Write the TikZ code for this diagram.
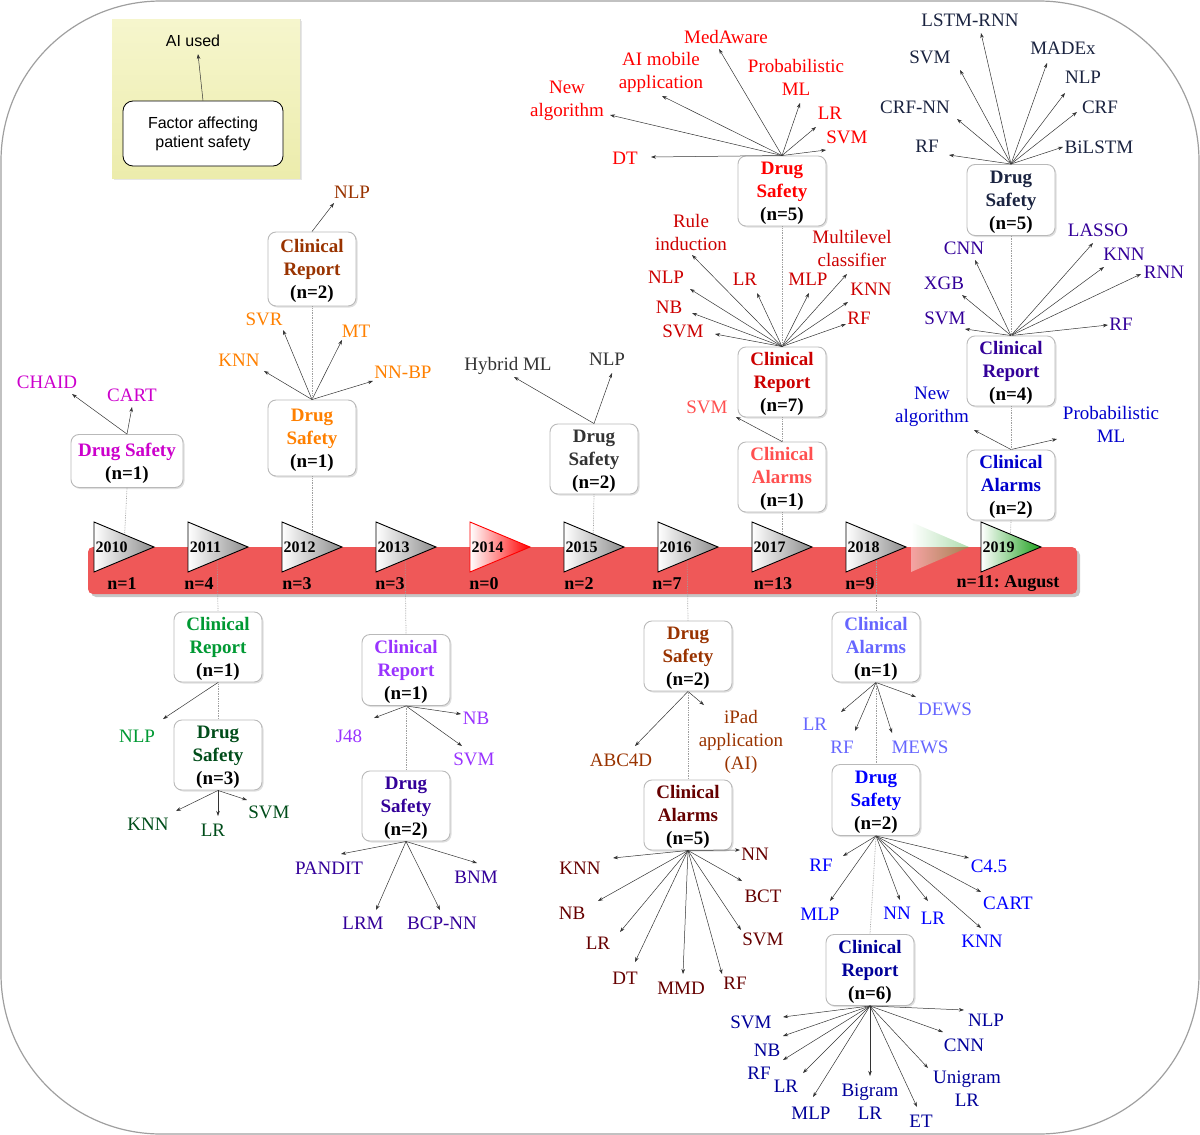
\documentclass[tikz,border=0pt]{standalone}
\usepackage{fontspec}
\setmainfont{Liberation Serif}
\newfontfamily\legendfont{Liberation Sans}
\usetikzlibrary{arrows.meta,shadows}
\definecolor{cten}{RGB}{204,0,204}
\definecolor{celr}{RGB}{0,153,51}
\definecolor{celd}{RGB}{0,77,26}
\definecolor{ctwr}{RGB}{153,51,0}
\definecolor{ctwd}{RGB}{255,128,0}
\definecolor{cthr}{RGB}{153,51,255}
\definecolor{cthd}{RGB}{51,0,153}
\definecolor{cfif}{RGB}{51,51,51}
\definecolor{csxd}{RGB}{153,51,0}
\definecolor{csxa}{RGB}{102,0,0}
\definecolor{csva}{RGB}{255,80,80}
\definecolor{csvr}{RGB}{204,0,0}
\definecolor{csvd}{RGB}{255,0,0}
\definecolor{ceia}{RGB}{102,102,255}
\definecolor{ceid}{RGB}{0,0,255}
\definecolor{ceir}{RGB}{0,0,153}
\definecolor{cnia}{RGB}{0,0,204}
\definecolor{cnir}{RGB}{51,0,153}
\definecolor{cnid}{RGB}{26,35,64}
\definecolor{barred}{RGB}{239,88,88}
\definecolor{legtop}{RGB}{246,246,205}
\definecolor{legbot}{RGB}{236,236,172}
\definecolor{trigreen}{RGB}{30,160,30}
\colorlet{labcol}{black}
\newcommand{\bst}{\rule{0pt}{18pt}}
\newcommand{\techlab}[4]{%
  \node[lbl] (#1) at (#2) {#3};
  \coordinate (#1t) at (#4);
  \draw[arr] (\src) -- (#1t);
}
\newcommand{\yeartri}[5]{%
  \shadedraw[left color=white, right color=#3, draw=#4, line width=0.9pt] (#1,522) -- ++(60,25) -- ++(-60,25) -- cycle;
  \node[ylab] (#2) at (#1+17.5,547) {#5};
}
\begin{document}
\begin{tikzpicture}[x=1pt,y=-1pt,
  box/.style={draw=gray!55, line width=0.9pt, rounded corners=8pt, fill=white,
    minimum width=88pt, minimum height=70pt, inner sep=1pt, align=center,
    font=\fontsize{19}{23}\selectfont\bfseries,
    drop shadow={shadow xshift=1.5pt, shadow yshift=-1.5pt, opacity=0.25, fill=gray}},
  lbl/.style={font=\fontsize{19}{23}\selectfont, text=labcol, align=center, inner sep=1pt},
  arr/.style={draw=black!80, line width=0.5pt, -{Stealth[length=5pt,width=3.5pt]}},
  dots/.style={draw=gray!75, densely dotted, line width=0.7pt},
  ylab/.style={font=\fontsize{16}{16}\selectfont\bfseries, inner sep=0pt},
  nlab/.style={font=\fontsize{18}{18}\selectfont\bfseries, inner sep=0pt}]
\useasboundingbox (0,0) rectangle (1200,1135);
% frame
\draw[gray!75, line width=1.2pt, rounded corners=160pt] (1,1) rectangle (1199,1134);
% legend
\shade[top color=legtop, bottom color=legbot, draw=gray!30, line width=0.5pt,
  drop shadow={shadow xshift=1.5pt, shadow yshift=-1.5pt, opacity=0.2, fill=gray}] (112,19) rectangle (300,178);
\shade[top color=legtop, bottom color=legbot] (112,19) rectangle (300,178);
\node[draw=black, line width=0.8pt, rounded corners=10pt, fill=white, minimum width=160pt, minimum height=65pt,
  align=center, font=\legendfont\fontsize{16}{19}\selectfont] (legbox) at (203,133.5) {Factor affecting\\patient safety};
\node[font=\legendfont\fontsize{16}{19}\selectfont, inner sep=1pt] (legai) at (193,40.5) {AI used};
\coordinate (legtip) at (198,54);
\draw[arr] (legbox.north) -- (legtip);
% bar
\fill[gray!45, rounded corners=5pt] (91,550) rectangle (1080,597);
\fill[barred, rounded corners=5pt] (88,547) rectangle (1077,594);
% triangle coordinates
\coordinate (t10) at (124,547);
\coordinate (t11) at (217,547);
\coordinate (t12) at (312,547);
\coordinate (t13) at (405,547);
\coordinate (t15) at (593,547);
\coordinate (t16) at (687,547);
\coordinate (t17) at (782,547);
\coordinate (t18) at (876,547);
\coordinate (t19) at (1010,547);
% boxes
\node[box, text=cten, minimum width=112pt, minimum height=53pt] (b10) at (127,461) {\bst Drug Safety\\\textcolor{black}{(n=1)}};
\node[box, text=ctwr, minimum height=74pt] (b12r) at (312,269) {\bst Clinical\\Report\\\textcolor{black}{(n=2)}};
\node[box, text=ctwd, minimum height=76pt] (b12d) at (312,438) {\bst Drug\\Safety\\\textcolor{black}{(n=1)}};
\node[box, text=celr] (b11r) at (218,647) {\bst Clinical\\Report\\\textcolor{black}{(n=1)}};
\node[box, text=celd, minimum height=65pt] (b11d) at (218,755) {\bst Drug\\Safety\\\textcolor{black}{(n=3)}};
\node[box, text=cthr, minimum height=71pt] (b13r) at (406,670) {\bst Clinical\\Report\\\textcolor{black}{(n=1)}};
\node[box, text=cthd] (b13d) at (406,806) {\bst Drug\\Safety\\\textcolor{black}{(n=2)}};
\node[box, text=cfif, minimum height=69pt] (b15) at (594,459) {\bst Drug\\Safety\\\textcolor{black}{(n=2)}};
\node[box, text=csxd, minimum height=65pt] (b16d) at (688,656) {\bst Drug\\Safety\\\textcolor{black}{(n=2)}};
\node[box, text=csxa, minimum height=64pt] (b16a) at (688,815) {\bst Clinical\\Alarms\\\textcolor{black}{(n=5)}};
\node[box, text=csva, minimum height=69pt] (b17a) at (782,477) {\bst Clinical\\Alarms\\\textcolor{black}{(n=1)}};
\node[box, text=csvr] (b17r) at (782,382) {\bst Clinical\\Report\\\textcolor{black}{(n=7)}};
\node[box, text=csvd, minimum height=65pt] (b17d) at (782,191) {\bst Drug\\Safety\\\textcolor{black}{(n=5)}};
\node[box, text=ceia] (b18a) at (876,647) {\bst Clinical\\Alarms\\\textcolor{black}{(n=1)}};
\node[box, text=ceid, minimum height=71pt] (b18d) at (876,800) {\bst Drug\\Safety\\\textcolor{black}{(n=2)}};
\node[box, text=ceir, minimum height=71pt] (b18r) at (870,970) {\bst Clinical\\Report\\\textcolor{black}{(n=6)}};
\node[box, text=cnia, minimum height=65pt] (b19a) at (1011,485) {\bst Clinical\\Alarms\\\textcolor{black}{(n=2)}};
\node[box, text=cnir] (b19r) at (1011,371) {\bst Clinical\\Report\\\textcolor{black}{(n=4)}};
\node[box, text=cnid, minimum height=71pt] (b19d) at (1011,200) {\bst Drug\\Safety\\\textcolor{black}{(n=5)}};
% 2010
\colorlet{labcol}{cten}\def\src{b10.north}
\techlab{a1}{47,382}{CHAID}{72,394}
\techlab{a2}{132,395}{CART}{132,407}
% 2012
\colorlet{labcol}{ctwr}\def\src{b12r.north}
\techlab{c1}{352,192}{NLP}{334,203}
\colorlet{labcol}{ctwd}\def\src{b12d.north}
\techlab{d1}{239,360}{KNN}{264,371}
\techlab{d2}{264,319}{SVR}{283,330}
\techlab{d3}{356,331}{MT}{342,340}
\techlab{d4}{403,372}{NN-BP}{373,381}
% 2011
\colorlet{labcol}{celr}\def\src{b11r.south}
\techlab{e1}{137,736}{NLP}{163,719}
\colorlet{labcol}{celd}\def\src{b11d.south}
\techlab{f1}{148,824}{KNN}{176,811}
\techlab{f2}{213,830}{LR}{218,816}
\techlab{f3}{269,812}{SVM}{247,800}
% 2013
\colorlet{labcol}{cthr}\def\src{b13r.south}
\techlab{g1}{349,736}{J48}{374,718}
\techlab{g2}{476,718}{NB}{461,714}
\techlab{g3}{474,759}{SVM}{462,746}
\colorlet{labcol}{cthd}\def\src{b13d.south}
\techlab{h1}{329,868}{PANDIT}{341,854}
\techlab{h2}{363,923}{LRM}{376,910}
\techlab{h3}{442,923}{BCP-NN}{440,910}
\techlab{h4}{476,877}{BNM}{477,863}
% 2015
\colorlet{labcol}{cfif}\def\src{b15.north}
\techlab{i1}{508,366}{Hybrid ML}{514,377}
\techlab{i2}{607,359}{NLP}{612,373}
% 2016
\colorlet{labcol}{csxd}\def\src{b16d.south}
\techlab{j1}{621,760}{ABC4D}{635,746}
\techlab{j2}{741,742}{iPad\\application\\(AI)}{704,705}
\colorlet{labcol}{csxa}\def\src{b16a.south}
\techlab{k1}{580,868}{KNN}{613,858}
\techlab{k2}{572,913}{NB}{598,901}
\techlab{k3}{598,943}{LR}{620,932}
\techlab{k4}{625,978}{DT}{635,962}
\techlab{k5}{681,988}{MMD}{683,974}
\techlab{k6}{735,983}{RF}{722,974}
\techlab{k7}{763,939}{SVM}{741,930}
\techlab{k8}{763,896}{BCT}{742,881}
\techlab{k9}{755,854}{NN}{740,850}
% 2017
\colorlet{labcol}{csva}\def\src{b17a.north}
\techlab{m1}{707,407}{SVM}{736,417}
\colorlet{labcol}{csvr}\def\src{b17r.north}
\techlab{p1}{691,232}{Rule\\induction}{692,255}
\techlab{p2}{666,277}{NLP}{690,289}
\techlab{p3}{669,307}{NB}{692,313}
\techlab{p4}{683,331}{SVM}{715,334}
\techlab{p5}{745,279}{LR}{757,293}
\techlab{p6}{808,279}{MLP}{809,293}
\techlab{p7}{852,248}{Multilevel\\classifier}{847,274}
\techlab{p8}{871,289}{KNN}{848,302}
\techlab{p9}{859,318}{RF}{846,324}
\colorlet{labcol}{csvd}\def\src{b17d.north}
\techlab{q1}{625,158}{DT}{651,157}
\techlab{q2}{567,101}{New\\algorithm}{610,115}
\techlab{q3}{661,72}{AI mobile\\application}{662,96}
\techlab{q4}{726,37}{MedAware}{719,49}
\techlab{q5}{796,77}{Probabilistic\\ML}{800,103}
\techlab{q6}{830,113}{LR}{816,127}
\techlab{q7}{847,137}{SVM}{826,150}
% 2018
\colorlet{labcol}{ceia}\def\src{b18a.south}
\techlab{r1}{815,724}{LR}{841,712}
\techlab{r2}{842,747}{RF}{855,731}
\techlab{r3}{920,747}{MEWS}{892,733}
\techlab{r4}{945,709}{DEWS}{916,697}
\colorlet{labcol}{ceid}\def\src{b18d.south}
\techlab{s1}{821,865}{RF}{843,856}
\techlab{s2}{820,914}{MLP}{830,901}
\techlab{s3}{897,913}{NN}{900,900}
\techlab{s4}{933,918}{LR}{928,901}
\techlab{s5}{982,941}{KNN}{981,928}
\techlab{s6}{1008,903}{CART}{981,892}
\techlab{s7}{989,866}{C4.5}{969,858}
\colorlet{labcol}{ceir}\def\src{b18r.south}
\techlab{u1}{751,1022}{SVM}{783,1017}
\techlab{u2}{767,1050}{NB}{783,1036}
\techlab{u3}{759,1073}{RF}{783,1060}
\techlab{u4}{786,1086}{LR}{803,1073}
\techlab{u5}{811,1113}{MLP}{813,1097}
\techlab{u6}{870,1102}{Bigram\\LR}{870,1076}
\techlab{u7}{921,1121}{ET}{917,1107}
\techlab{u8}{967,1089}{Unigram\\LR}{928,1068}
\techlab{u9}{964,1045}{CNN}{943,1032}
\techlab{u10}{986,1020}{NLP}{964,1010}
% 2019
\colorlet{labcol}{cnia}\def\src{b19a.north}
\techlab{v1}{932,407}{New\\algorithm}{974,430}
\techlab{v2}{1111,424}{Probabilistic\\ML}{1057,439}
\colorlet{labcol}{cnir}\def\src{b19r.north}
\techlab{w1}{945,318}{SVM}{965,329}
\techlab{w2}{944,283}{XGB}{962,295}
\techlab{w3}{964,248}{CNN}{975,260}
\techlab{w4}{1098,230}{LASSO}{1093,243}
\techlab{w5}{1124,254}{KNN}{1104,267}
\techlab{w6}{1164,272}{RNN}{1141,274}
\techlab{w7}{1121,324}{RF}{1108,325}
\colorlet{labcol}{cnid}\def\src{b19d.north}
\techlab{z1}{927,146}{RF}{949,155}
\techlab{z2}{915,107}{CRF-NN}{957,119}
\techlab{z3}{930,57}{SVM}{960,70}
\techlab{z4}{970,20}{LSTM-RNN}{981,33}
\techlab{z5}{1063,48}{MADEx}{1047,63}
\techlab{z6}{1083,77}{NLP}{1065,93}
\techlab{z7}{1100,107}{CRF}{1077,112}
\techlab{z8}{1099,147}{BiLSTM}{1063,147}
% dotted connectors
\draw[dots] (b10.south) -- (t10);
\draw[dots] (b12r.south) -- (b12d.north);
\draw[dots] (b12d.south) -- (t12);
\draw[dots] (t11) -- (b11r.north);
\draw[dots] (b11r.south) -- (b11d.north);
\draw[dots] (t13) -- (b13r.north);
\draw[dots] (b13r.south) -- (b13d.north);
\draw[dots] (b15.south) -- (t15);
\draw[dots] (t16) -- (b16d.north);
\draw[dots] (b16d.south) -- (b16a.north);
\draw[dots] (b17d.south) -- (b17r.north);
\draw[dots] (b17r.south) -- (b17a.north);
\draw[dots] (b17a.south) -- (t17);
\draw[dots] (t18) -- (b18a.north);
\draw[dots] (b18a.south) -- (b18d.north);
\draw[dots] (b18d.south) -- (b18r.north);
\draw[dots] (b19d.south) -- (b19r.north);
\draw[dots] (b19r.south) -- (b19a.north);
\draw[dots] (b19a.south) -- (t19);
% triangles
\yeartri{94}{y10}{black!45}{black}{2010}
\yeartri{188}{y11}{black!45}{black}{2011}
\yeartri{282}{y12}{black!45}{black}{2012}
\yeartri{376}{y13}{black!45}{black}{2013}
\yeartri{470}{y14}{red}{red}{2014}
\yeartri{564}{y15}{black!45}{black}{2015}
\yeartri{658}{y16}{black!45}{black}{2016}
\yeartri{752}{y17}{black!45}{black}{2017}
\yeartri{846}{y18}{black!45}{black}{2018}
\shade[left color=white, right color=trigreen!80, opacity=0.45] (911,522) -- ++(58,25) -- ++(-58,25) -- cycle;
\yeartri{981}{y19}{trigreen}{black}{2019}
% counts
\node[nlab] (n10) at (122,584) {n=1};
\node[nlab] (n11) at (199,584) {n=4};
\node[nlab] (n12) at (297,584) {n=3};
\node[nlab] (n13) at (390,584) {n=3};
\node[nlab] (n14) at (484,584) {n=0};
\node[nlab] (n15) at (579,584) {n=2};
\node[nlab] (n16) at (667,584) {n=7};
\node[nlab] (n17) at (773,584) {n=13};
\node[nlab] (n18) at (860,584) {n=9};
\node[nlab] (n19) at (1008,584) {n=11:\ August};
\end{tikzpicture}
\end{document}
